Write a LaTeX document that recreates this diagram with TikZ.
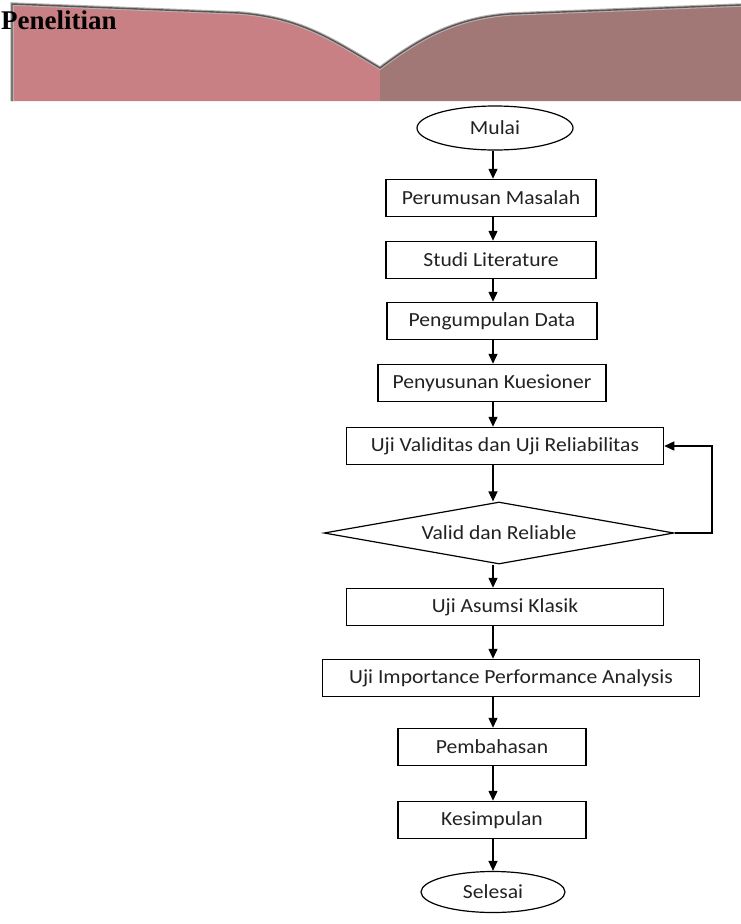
\documentclass[tikz,border=0pt]{standalone}
\usepackage{fontspec}
\setmainfont{Liberation Serif}
\newfontfamily\flowfont{Carlito}[FakeStretch=1.08]
\usetikzlibrary{shapes.geometric,arrows.meta}
\definecolor{BannerPink}{HTML}{C98084}
\definecolor{BannerMauve}{HTML}{A27877}
\definecolor{BannerEdge}{HTML}{5E5454}
\definecolor{FlowInk}{HTML}{222222}
\tikzset{
  flowtext/.style={font=\flowfont\fontsize{20}{22}\selectfont,text=FlowInk},
  flowbox/.style={flowtext,draw=black,line width=1.5pt,minimum height=37pt,inner sep=0pt},
  flowterm/.style={flowtext,draw=black,line width=1.2pt,ellipse,minimum height=44pt,inner sep=0pt},
  flowcheck/.style={flowtext,draw=black,line width=1.2pt,diamond,aspect=5,minimum height=62pt,inner sep=0pt},
  flowarrow/.style={-{Triangle[length=10pt,width=9pt]},line width=1.4pt,draw=black},
}
\begin{document}
\begin{tikzpicture}[x=1pt,y=-1pt]
    \useasboundingbox (0,0) rectangle (741,924);

    % banner at the top
    \fill[BannerPink] (12,101) -- (12,4) -- (240,13) .. controls (300,18) and (330,38) .. (380,68) -- (380,101) -- cycle;
    \fill[BannerMauve] (380,101) -- (380,68) .. controls (420,38) and (455,18) .. (510,14) -- (741,5) -- (741,101) -- cycle;
    \draw[BannerEdge!45,line width=3.5pt] (12,101) -- (12,4) -- (240,13) .. controls (300,18) and (330,38) .. (380,68) .. controls (420,38) and (455,18) .. (510,14) -- (741,5);
    \draw[BannerEdge,line width=1.4pt] (12,101) -- (12,4) -- (240,13) .. controls (300,18) and (330,38) .. (380,68) .. controls (420,38) and (455,18) .. (510,14) -- (741,5);
    \node[anchor=base west,inner sep=0pt,font=\bfseries\fontsize{27}{29}\selectfont] (judul) at (1,29) {Penelitian};

    % flowchart
    \coordinate (spine) at (493,0);
    \node[flowterm,minimum width=156pt] (mulai) at (495,128) {Mulai};
    \node[flowbox,minimum width=210pt] (rumus) at (491,198) {Perumusan Masalah};
    \node[flowbox,minimum width=210pt] (studi) at (491,260) {Studi Literature};
    \node[flowbox,minimum width=210pt] (kumpul) at (492,321) {Pengumpulan Data};
    \node[flowbox,minimum width=228pt] (susun) at (492,383) {Penyusunan Kuesioner};
    \node[flowbox,minimum width=317pt] (validitas) at (505,446) {Uji Validitas dan Uji Reliabilitas};
    \node[flowcheck,minimum width=350pt] (valid) at (499,533) {Valid dan Reliable};
    \node[flowbox,minimum width=317pt] (asumsi) at (505,607) {Uji Asumsi Klasik};
    \node[flowbox,minimum width=377pt] (ipa) at (511,678) {Uji Importance Performance Analysis};
    \node[flowbox,minimum width=188pt] (bahas) at (492,747) {Pembahasan};
    \node[flowbox,minimum width=188pt] (simpul) at (492,820) {Kesimpulan};
    \node[flowterm,minimum width=144pt,minimum height=41pt] (selesai) at (493,892) {Selesai};

    \foreach \a/\b in {mulai/rumus,rumus/studi,studi/kumpul,kumpul/susun,susun/validitas,validitas/valid,valid/asumsi,asumsi/ipa,ipa/bahas,bahas/simpul,simpul/selesai}
        \draw[flowarrow] (\a.south -| spine) -- (\b.north -| spine);

    % back to the test when not valid
    \coordinate (balik) at (712,0);
    \draw[flowarrow] (valid.east) -- (valid.east -| balik) -- (validitas.east -| balik) -- (validitas.east);
\end{tikzpicture}
\end{document}
